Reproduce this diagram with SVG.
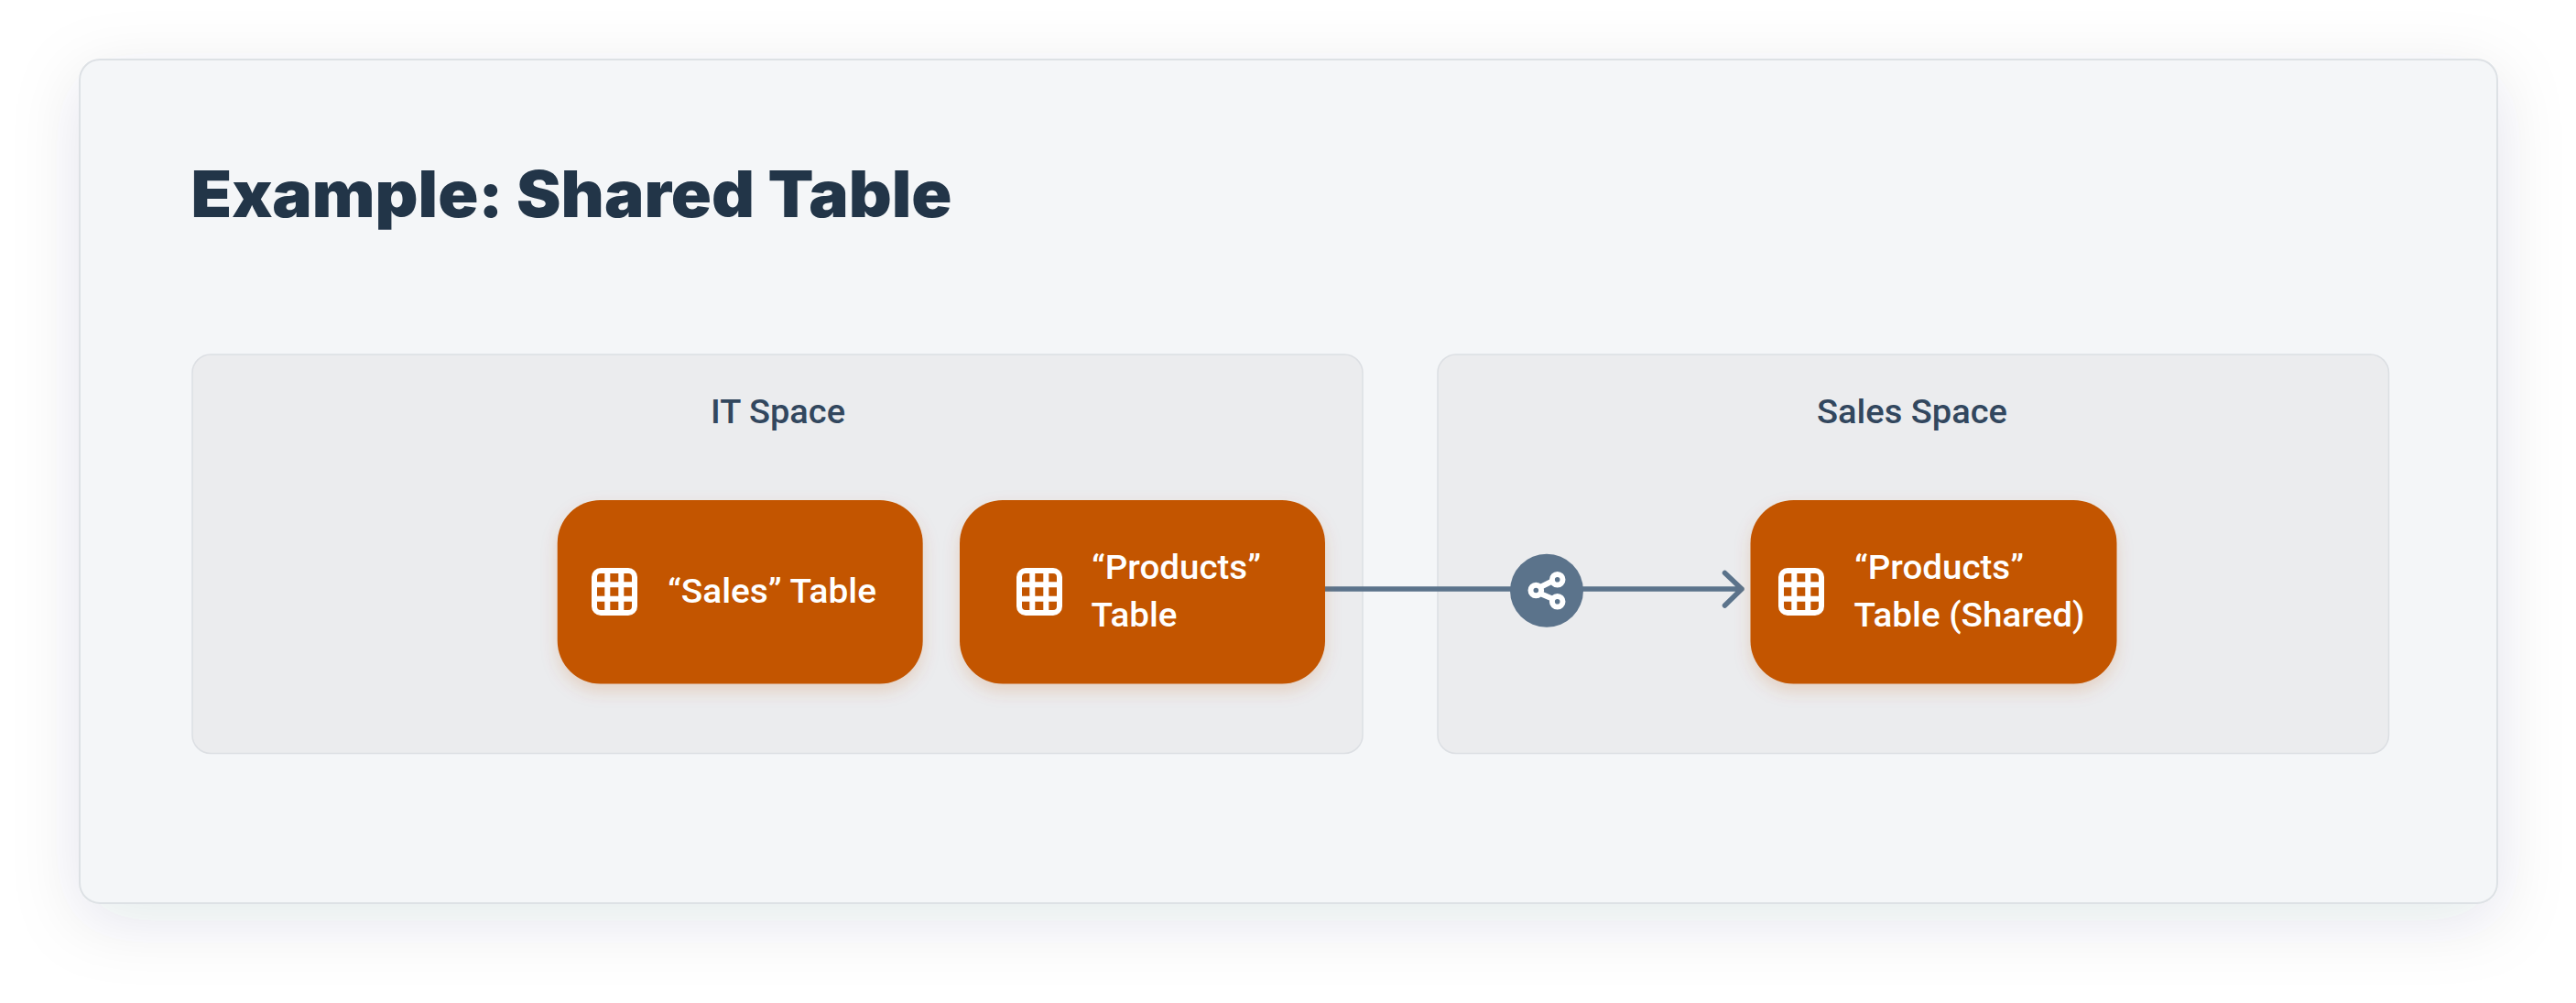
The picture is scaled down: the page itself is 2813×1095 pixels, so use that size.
<svg xmlns="http://www.w3.org/2000/svg" width="2813" height="1095" viewBox="0 0 2813 1095">
<style>
.card{fill:#f4f6f8;stroke:#dde1e5;stroke-width:2}
.panel{fill:#ebecee;stroke:#dcdfe3;stroke-width:1.5}
.node{fill:#c35500}
.title{font:900 70px "Inter",sans-serif;fill:#223548}
.space{font:500 36px "Roboto",sans-serif;fill:#32475e}
.lbl{font:500 37px "Roboto",sans-serif;fill:#fff}
.ic{fill:none;stroke:#fff;stroke-width:6}
.conn{fill:none;stroke:#5b738b;stroke-width:5.5;stroke-linecap:round;stroke-linejoin:round}
</style>
<defs>
<filter id="cs" x="-10%" y="-25%" width="120%" height="155%"><feDropShadow dx="0" dy="18" stdDeviation="36" flood-color="#223548" flood-opacity="0.11"/></filter>
<filter id="ns" x="-20%" y="-20%" width="140%" height="150%"><feDropShadow dx="0" dy="8" stdDeviation="9" flood-color="#c35500" flood-opacity="0.18"/></filter>
<g id="tbl">
<rect class="ic" x="3" y="3" width="44" height="46" rx="7"/>
<path class="ic" d="M17.3 3V49M32.3 3V49M3 18.3H47M3 33.7H47"/>
</g>
</defs>
<rect width="2813" height="1095" fill="#fff"/>
<g id="card">
<rect class="card" x="87" y="65" width="2640" height="921" rx="22" filter="url(#cs)"/>
<text class="title" x="208.5" y="237" textLength="831" lengthAdjust="spacingAndGlyphs">Example: Shared Table</text>
</g>
<g id="it-space">
<rect class="panel" x="210" y="387" width="1278" height="435.5" rx="20"/>
<text class="space" x="776" y="462" textLength="147" lengthAdjust="spacingAndGlyphs">IT Space</text>
</g>
<g id="sales-space">
<rect class="panel" x="1570" y="387" width="1038.5" height="435.5" rx="20"/>
<text class="space" x="1984" y="462" textLength="208" lengthAdjust="spacingAndGlyphs">Sales Space</text>
</g>
<g id="connectors">
<path class="conn" d="M1447 643H1902M1883.5 625.5L1902 643L1883.5 661"/>
</g>
<g id="share">
<circle cx="1689" cy="644.7" r="40" fill="#5b738b"/>
<path class="ic" d="M1682 641L1696 634M1682 648L1696 654"/>
<circle class="ic" cx="1677.3" cy="644.5" r="5.8"/>
<circle class="ic" cx="1700.7" cy="632.7" r="5.8"/>
<circle class="ic" cx="1700.7" cy="656.7" r="5.8"/>
</g>
<g id="sales-table">
<rect class="node" x="608.7" y="546" width="399" height="200.5" rx="47" filter="url(#ns)"/>
<use href="#tbl" x="646" y="620"/>
<text class="lbl" x="729" y="658.3" textLength="228" lengthAdjust="spacingAndGlyphs">“Sales” Table</text>
</g>
<g id="products-table">
<rect class="node" x="1048" y="546" width="399" height="200.5" rx="47" filter="url(#ns)"/>
<use href="#tbl" x="1110" y="620"/>
<text class="lbl" x="1192" y="632" textLength="185" lengthAdjust="spacingAndGlyphs">“Products”</text>
<text class="lbl" x="1191.5" y="684" textLength="94" lengthAdjust="spacingAndGlyphs">Table</text>
</g>
<g id="products-shared">
<rect class="node" x="1911.5" y="546" width="400" height="200.5" rx="47" filter="url(#ns)"/>
<use href="#tbl" x="1942" y="620"/>
<text class="lbl" x="2025" y="632" textLength="185" lengthAdjust="spacingAndGlyphs">“Products”</text>
<text class="lbl" x="2024.5" y="684" textLength="252" lengthAdjust="spacingAndGlyphs">Table (Shared)</text>
</g>
</svg>
